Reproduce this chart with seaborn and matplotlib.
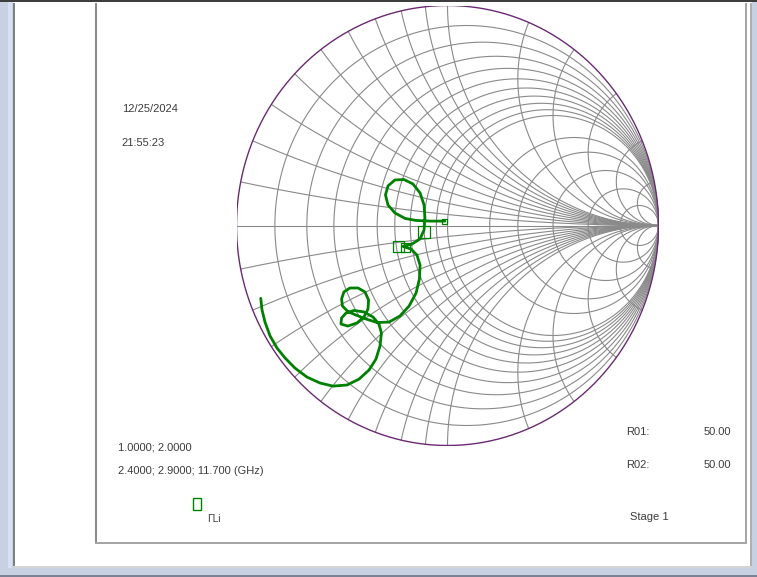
import numpy as np
import pandas as pd
import matplotlib
matplotlib.use("Agg")
import matplotlib.pyplot as plt
from matplotlib.patches import Rectangle
import seaborn as sns

# Load reflection coefficient Gamma_Li over the sweep (real / imaginary parts)
gamma_re = [-0.885, -0.879, -0.865, -0.841, -0.808, -0.770, -0.723, -0.666,
            -0.604, -0.543, -0.476, -0.419, -0.372, -0.339, -0.320, -0.313,
            -0.325, -0.353, -0.396, -0.443, -0.481, -0.502, -0.505, -0.472,
            -0.429, -0.396, -0.377, -0.374, -0.391, -0.424, -0.462, -0.491,
            -0.502, -0.498, -0.472, -0.434, -0.386, -0.334, -0.277, -0.225,
            -0.182, -0.149, -0.133, -0.130, -0.145, -0.173, -0.211, -0.168,
            -0.130, -0.111, -0.107, -0.111, -0.130, -0.164, -0.206, -0.249,
            -0.282, -0.294, -0.282, -0.249, -0.201, -0.149, -0.083, -0.012]
gamma_im = [-0.331, -0.384, -0.439, -0.502, -0.557, -0.602, -0.648, -0.689,
            -0.716, -0.730, -0.725, -0.698, -0.657, -0.607, -0.548, -0.489,
            -0.448, -0.416, -0.393, -0.386, -0.398, -0.420, -0.448, -0.457,
            -0.443, -0.416, -0.380, -0.339, -0.302, -0.284, -0.284, -0.302,
            -0.334, -0.366, -0.391, -0.407, -0.425, -0.441, -0.439, -0.411,
            -0.366, -0.307, -0.243, -0.180, -0.134, -0.107, -0.095, -0.084,
            -0.061, -0.020, 0.034, 0.093, 0.148, 0.189, 0.209, 0.207,
            0.180, 0.139, 0.093, 0.057, 0.032, 0.023, 0.020, 0.020]

# Frequency markers placed on the trace
marker_re = [-0.012, -0.111, -0.230, -0.197]
marker_im = [0.020, -0.030, -0.095, -0.098]

# Constant-resistance circles and constant-reactance arcs of the grid
r_values = [0.1, 0.2, 0.3, 0.4, 0.5, 0.6, 0.7, 0.8, 0.9, 1.0, 1.5, 2, 3, 5, 10]
x_values = [0.1, 0.2, 0.3, 0.4, 0.5, 0.6, 0.7, 0.8, 0.9, 1.0, 1.5, 2, 3, 5, 10]

date_text = "12/25/2024"
time_text = "21:55:23"
range_text = "1.0000; 2.0000"
freq_text = "2.4000; 2.9000; 11.700 (GHz)"
legend_label = "\u0393Li"
ref_labels = ["R01:", "R02:"]
ref_values = ["50.00", "50.00"]
stage_text = "Stage 1"

W, H = 757, 577
TRACE = "#008000"
GRID = "#8a8a8a"
RIM = "#6a2a72"
TXT = "#3c3c3c"
FRAME = "#c8d1e2"

sns.set_style("white")
plt.rcParams["font.family"] = ["Liberation Sans", "DejaVu Sans"]

fig = plt.figure(figsize=(W / 100, H / 100), dpi=100)
fig.patch.set_facecolor("white")


def px_rect(x0, y0, x1, y1, **kw):
    """Rectangle given in pixel coordinates measured from the top-left."""
    fig.patches.append(Rectangle((x0 / W, 1 - y1 / H), (x1 - x0) / W, (y1 - y0) / H,
                                 transform=fig.transFigure, figure=fig, **kw))


def px_text(x, y, s, size=8, **kw):
    fig.text(x / W, 1 - y / H, s, fontsize=size, color=TXT, va="baseline", **kw)


# window frame
px_rect(0, 0, W, 2, facecolor="#3e3e3e", edgecolor="none")
px_rect(0, 2, 13, H, facecolor=FRAME, edgecolor="none")
px_rect(8, 2, 12, 569, facecolor="#d6e0f2", edgecolor="none")
px_rect(13, 3, 15, 568, facecolor="#808080", edgecolor="none")
px_rect(752, 2, W, H, facecolor=FRAME, edgecolor="none")
px_rect(750, 3, 752, 568, facecolor="#b0b0b0", edgecolor="none")
px_rect(0, 568, W, H, facecolor=FRAME, edgecolor="none")
px_rect(13, 566, 752, 568, facecolor="#d4d4d4", edgecolor="none")
px_rect(0, 575, W, H, facecolor="#7c8294", edgecolor="none")
# inner panel border
px_rect(95, 3, 97, 544, facecolor="#8c8c8c", edgecolor="none")
px_rect(95, 542, 747, 544, facecolor="#a6a6a6", edgecolor="none")
px_rect(745, 3, 747, 544, facecolor="#a6a6a6", edgecolor="none")

# Smith chart axes
cx0, cx1, cy0, cy1 = 236.5, 658.5, 5.5, 445.5
ax = fig.add_axes([cx0 / W, 1 - cy1 / H, (cx1 - cx0) / W, (cy1 - cy0) / H])
ax.set_xlim(-1, 1)
ax.set_ylim(-1, 1)
ax.set_axis_off()
ax.patch.set_alpha(0)

theta = np.linspace(0, 2 * np.pi, 721)
for r in r_values:
    c = r / (1 + r)
    rad = 1 / (1 + r)
    ax.plot(c + rad * np.cos(theta), rad * np.sin(theta), color=GRID, lw=0.8, zorder=1)

rs = np.concatenate([[0.0], np.logspace(-3, 4, 1500)])
for xv in x_values:
    for sgn in (1, -1):
        z = rs + 1j * sgn * xv
        g = (z - 1) / (z + 1)
        g = np.append(g, 1 + 0j)
        ax.plot(g.real, g.imag, color=GRID, lw=0.8, zorder=1)

ax.plot([-1, 1], [0, 0], color=GRID, lw=0.8, zorder=1)
ax.plot(np.cos(theta), np.sin(theta), color=RIM, lw=1.0, zorder=2)

trace = pd.DataFrame({"re": gamma_re, "im": gamma_im, "k": range(len(gamma_re))})
sns.lineplot(data=trace, x="re", y="im", sort=False, estimator=None,
             color=TRACE, linewidth=2.0, ax=ax, zorder=3)

markers = pd.DataFrame({"re": marker_re, "im": marker_im})
marker_area = [13, 75, 63, 42]
for (_, row), s in zip(markers.iterrows(), marker_area):
    ax.scatter([row["re"]], [row["im"]], marker="s", s=s, facecolors="none",
               edgecolors=TRACE, linewidths=0.9, zorder=4)
ax.set_xlim(-1, 1)
ax.set_ylim(-1, 1)

# annotations
px_text(122, 112.5, date_text)
px_text(121.5, 146, time_text)
px_text(118.5, 450, range_text)
px_text(118.5, 473.5, freq_text)
px_rect(193, 498, 201, 510, facecolor="none", edgecolor=TRACE, linewidth=1.0)
px_text(207, 521.5, legend_label, size=7.3)
for yb, lab, val in zip([435, 468.5], ref_labels, ref_values):
    px_text(626.5, yb, lab)
    px_text(704, yb, val)
px_text(630, 519.5, stage_text)

fig.savefig("out.png", dpi=100)
